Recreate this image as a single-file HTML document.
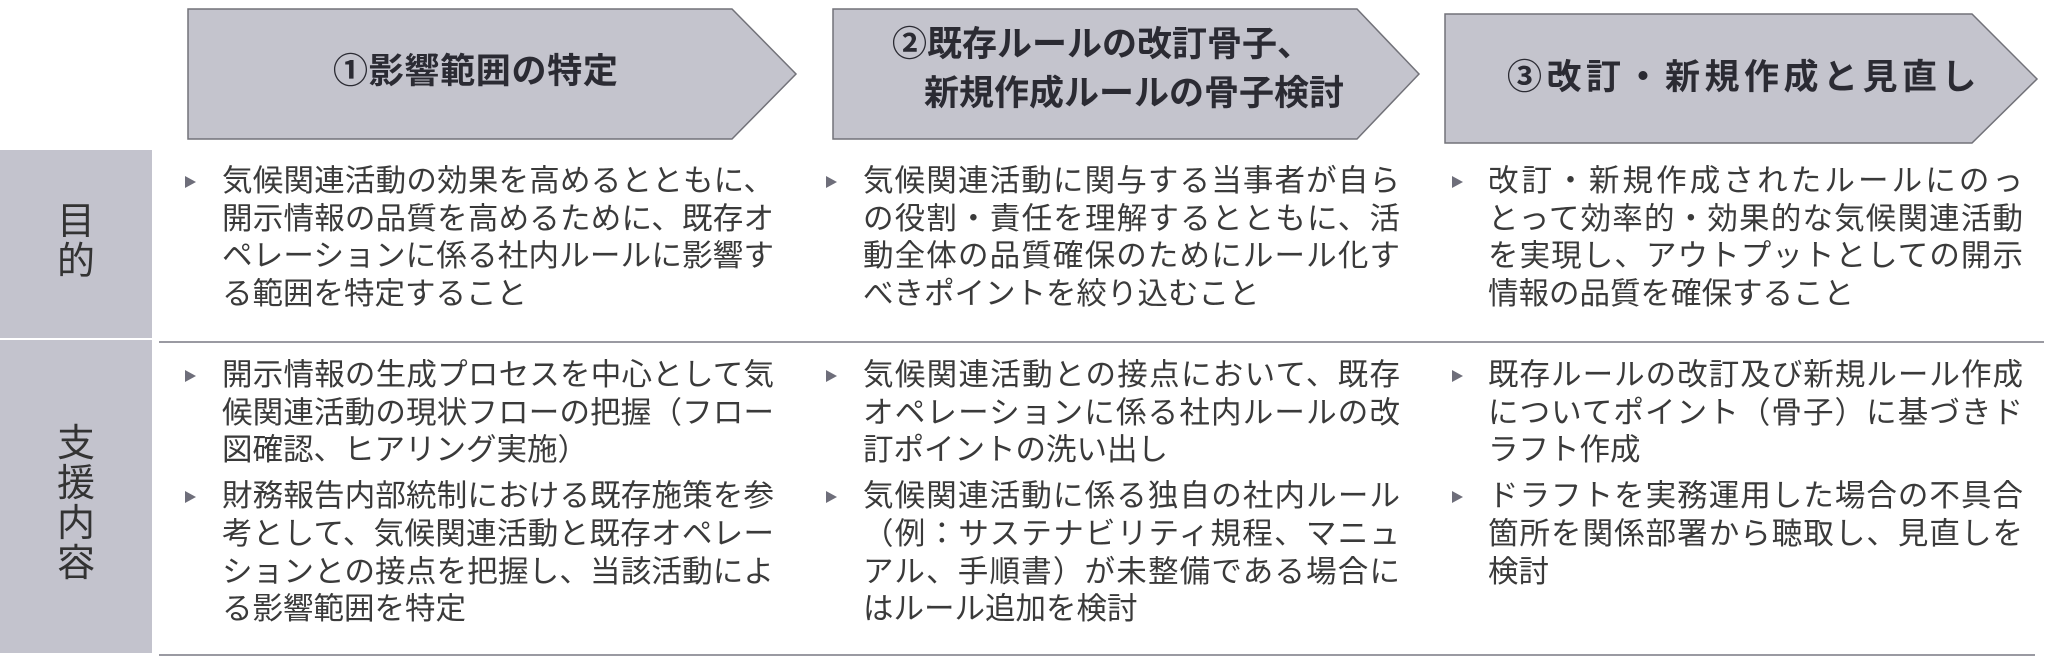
<!DOCTYPE html>
<html><head><meta charset="utf-8">
<style>
*{margin:0;padding:0;box-sizing:border-box}
body{width:2048px;height:671px;background:#fff;position:relative;overflow:hidden;font-family:"Liberation Sans","Noto Sans CJK JP",sans-serif;color:#333}
.a{position:absolute}
.h{position:absolute;font-weight:bold;font-size:35px;color:#2b2b33;white-space:nowrap;line-height:1}
.lab{position:absolute;left:0;width:152px;background:#c3c3cd;color:#333;font-size:38px;text-align:center;line-height:40px}
.col{position:absolute;font-size:30.5px;line-height:37.7px;color:#3a3a3a}
.col div{white-space:nowrap;text-align:justify;text-align-last:justify}
.col div.l{text-align-last:left}
.col .b2{margin-top:8px}
.tri{position:absolute;width:0;height:0;border-left:11px solid #6e6e7a;border-top:6px solid transparent;border-bottom:6px solid transparent}
.ln{position:absolute;height:2px;background:#9a9aa2}
</style></head><body>
<svg class="a" style="left:0;top:0" width="2048" height="160">
<polygon points="188,9 732,9 796,74 732,139 188,139" fill="#c4c4cd" stroke="#727279" stroke-width="1.5"/>
<polygon points="833,9 1357,9 1419,74 1357,139 833,139" fill="#c4c4cd" stroke="#727279" stroke-width="1.5"/>
<polygon points="1445,14 1972,14 2037,79 1972,143 1445,143" fill="#c4c4cd" stroke="#727279" stroke-width="1.5"/>
</svg>
<div class="h" style="left:333px;top:54px;letter-spacing:0.7px">①影響範囲の特定</div>
<div class="h" style="left:892px;top:27px">②既存ルールの改訂骨子、</div>
<div class="h" style="left:924px;top:76px">新規作成ルールの骨子検討</div>
<div class="h" style="left:1507px;top:60px;letter-spacing:4.5px">③改訂・新規作成と見直し</div>

<div class="lab" style="top:150px;height:188px;padding-top:52px">目<br>的</div>
<div class="lab" style="top:340px;height:313px;padding-top:84px">支<br>援<br>内<br>容</div>
<div class="ln" style="left:159px;top:341px;width:1885px"></div>
<div class="ln" style="left:159px;top:654px;width:1876px"></div>

<div class="tri" style="left:185px;top:176px"></div>
<div class="tri" style="left:826px;top:176px"></div>
<div class="tri" style="left:1452px;top:176px"></div>
<div class="tri" style="left:185px;top:370px"></div>
<div class="tri" style="left:185px;top:491px"></div>
<div class="tri" style="left:826px;top:370px"></div>
<div class="tri" style="left:826px;top:491px"></div>
<div class="tri" style="left:1452px;top:370px"></div>
<div class="tri" style="left:1452px;top:491px"></div>

<div class="col" style="left:222px;top:163px;width:552px">
<div>気候関連活動の効果を高めるとともに、</div>
<div>開示情報の品質を高めるために、既存オ</div>
<div>ペレーションに係る社内ルールに影響す</div>
<div class="l">る範囲を特定すること</div>
</div>
<div class="col" style="left:863px;top:163px;width:537px">
<div>気候関連活動に関与する当事者が自ら</div>
<div>の役割・責任を理解するとともに、活</div>
<div>動全体の品質確保のためにルール化す</div>
<div class="l">べきポイントを絞り込むこと</div>
</div>
<div class="col" style="left:1488px;top:163px;width:535px">
<div>改訂・新規作成されたルールにのっ</div>
<div>とって効率的・効果的な気候関連活動</div>
<div>を実現し、アウトプットとしての開示</div>
<div class="l">情報の品質を確保すること</div>
</div>

<div class="col" style="left:222px;top:357px;width:552px">
<div>開示情報の生成プロセスを中心として気</div>
<div>候関連活動の現状フローの把握（フロー</div>
<div class="l">図確認、ヒアリング実施）</div>
<div class="b2">財務報告内部統制における既存施策を参</div>
<div>考として、気候関連活動と既存オペレー</div>
<div>ションとの接点を把握し、当該活動によ</div>
<div class="l">る影響範囲を特定</div>
</div>
<div class="col" style="left:863px;top:357px;width:537px">
<div>気候関連活動との接点において、既存</div>
<div>オペレーションに係る社内ルールの改</div>
<div class="l">訂ポイントの洗い出し</div>
<div class="b2">気候関連活動に係る独自の社内ルール</div>
<div>（例：サステナビリティ規程、マニュ</div>
<div>アル、手順書）が未整備である場合に</div>
<div class="l">はルール追加を検討</div>
</div>
<div class="col" style="left:1488px;top:357px;width:535px">
<div>既存ルールの改訂及び新規ルール作成</div>
<div>についてポイント（骨子）に基づきド</div>
<div class="l">ラフト作成</div>
<div class="b2">ドラフトを実務運用した場合の不具合</div>
<div>箇所を関係部署から聴取し、見直しを</div>
<div class="l">検討</div>
</div>
</body></html>
